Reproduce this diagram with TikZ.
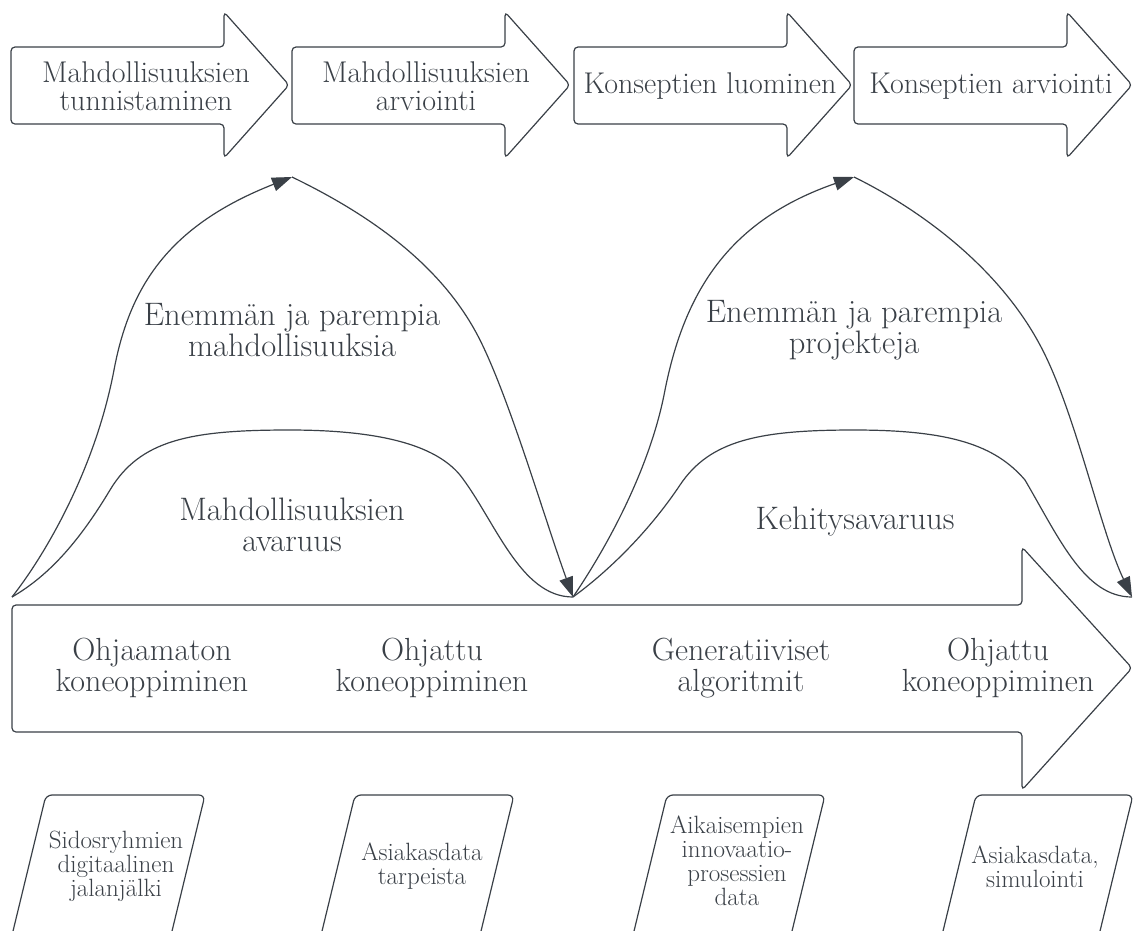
\documentclass[tikz,border=0pt]{standalone}
\usepackage{fontspec}
\usetikzlibrary{arrows.meta}
\definecolor{ink}{RGB}{58,64,71}
\begin{document}
\begin{tikzpicture}[x=1pt,y=-1pt]
			\tikzstyle{outline}=[draw=ink,line width=1.2pt,fill=white,rounded corners=4pt]
			\tikzstyle{flow}=[draw=ink,line width=1.2pt,-{Triangle[length=20pt,width=14pt]}]
			\tikzstyle{space}=[draw=ink,line width=1.2pt]
			\tikzstyle{steptext}=[align=center,text=ink,inner sep=0pt,font=\fontsize{30}{28.5}\selectfont]
			\tikzstyle{spacetext}=[align=center,text=ink,inner sep=0pt,font=\fontsize{32.5}{30.5}\selectfont]
			\tikzstyle{methodtext}=[align=center,text=ink,inner sep=0pt,font=\fontsize{32}{31}\selectfont]
			\tikzstyle{datatext}=[align=center,text=ink,inner sep=0pt,font=\fontsize{25}{24}\selectfont]
			\useasboundingbox (0,0) rectangle (1133,930);
			\clip (0,0) rectangle (1133,930);
			
			\begin{scope}
			\draw[outline] (11,47) -- (224,47) -- (224,12) -- (289,85) -- (224,158) -- (224,124) -- (11,124) -- cycle;
			\draw[outline] (292,47) -- (505,47) -- (505,12) -- (570,85) -- (505,158) -- (505,124) -- (292,124) -- cycle;
			\draw[outline] (574,47) -- (787,47) -- (787,12) -- (852,85) -- (787,158) -- (787,124) -- (574,124) -- cycle;
			\draw[outline] (854,47) -- (1067,47) -- (1067,12) -- (1132,85) -- (1067,158) -- (1067,124) -- (854,124) -- cycle;
			\node[steptext] (opp-find) at (146,86)  {Mahdollisuuksien\\tunnistaminen};
			\node[steptext] (opp-eval) at (426,86)  {Mahdollisuuksien\\arviointi};
			\node[steptext] (con-make) at (710,86)  {Konseptien luominen};
			\node[steptext] (con-eval) at (991,86)  {Konseptien arviointi};
			\end{scope}
			
			\coordinate (start)  at (12,597);
			\coordinate (valley) at (573,597);
			\coordinate (end)    at (1132,597);
			\coordinate (peak1)  at (292,177);
			\coordinate (peak2)  at (854,177);
			
			\draw[space] (start) .. controls (50,575) and (80,540) .. (110,490)
				.. controls (140,440) and (190,430) .. (289,430)
				.. controls (380,430) and (435,445) .. (460,475)
				.. controls (495,520) and (520,597) .. (valley);
			\draw[space] (valley) .. controls (610,570) and (650,530) .. (680,485)
				.. controls (710,440) and (760,430) .. (854,430)
				.. controls (950,430) and (995,445) .. (1025,480)
				.. controls (1060,540) and (1085,597) .. (end);
			\draw[flow] (start) .. controls (45,555) and (95,470) .. (114,370)
				.. controls (130,285) and (170,225) .. (peak1);
			\draw[flow] (peak1) .. controls (360,210) and (440,260) .. (480,340)
				.. controls (510,400) and (545,520) .. (valley);
			\draw[flow] (valley) .. controls (605,550) and (650,470) .. (665,390)
				.. controls (685,290) and (730,220) .. (peak2);
			\draw[flow] (peak2) .. controls (925,212) and (1000,270) .. (1040,345)
				.. controls (1075,410) and (1100,530) .. (end);
			
			\node[spacetext] (more-opp)  at (292,330) {Enemmän ja parempia\\mahdollisuuksia};
			\node[spacetext] (opp-space) at (292,525) {Mahdollisuuksien\\avaruus};
			\node[spacetext] (more-proj) at (854,330) {Enemmän ja parempia\\projekteja};
			\node[spacetext] (dev-space) at (855,522) {Kehitysavaruus};
			
			\draw[outline] (12,605) -- (1022,605) -- (1022,547) -- (1132,668) -- (1022,790) -- (1022,732) -- (12,732) -- cycle;
			\node[methodtext] (unsup1) at (152,668)  {Ohjaamaton\\koneoppiminen};
			\node[methodtext] (sup1)   at (432,668)  {Ohjattu\\koneoppiminen};
			\node[methodtext] (gen)    at (741,668)  {Generatiiviset\\algoritmit};
			\node[methodtext] (sup2)   at (998,668)  {Ohjattu\\koneoppiminen};
			
			\draw[outline,rounded corners=6pt] (46,795) -- (205,795) -- (165,960) -- (6,960) -- cycle;
			\draw[outline,rounded corners=6pt] (355,795) -- (514,795) -- (474,960) -- (315,960) -- cycle;
			\draw[outline,rounded corners=6pt] (667,795) -- (825,795) -- (785,960) -- (627,960) -- cycle;
			\draw[outline,rounded corners=6pt] (976,795) -- (1133,795) -- (1093,960) -- (936,960) -- cycle;
			\node[datatext] (trace)    at (116,866)  {Sidosryhmien\\digitaalinen\\jalanjälki};
			\node[datatext] (needs)    at (422,866)  {Asiakasdata\\tarpeista};
			\node[datatext] (history)  at (737,861)  {Aikaisempien\\innovaatio-\\prosessien\\data};
			\node[datatext] (simul)    at (1035,867) {Asiakasdata,\\simulointi};
		\end{tikzpicture}
\end{document}
